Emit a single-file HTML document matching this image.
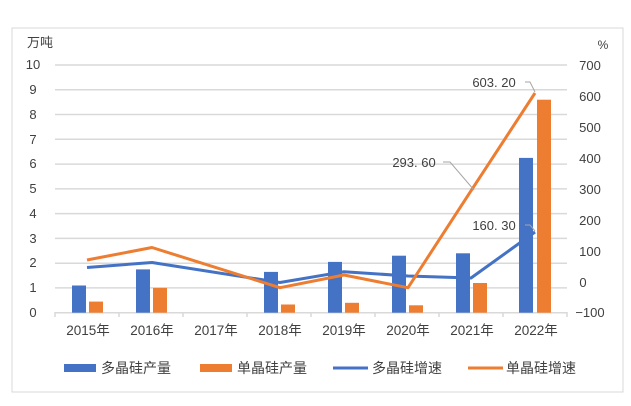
<!DOCTYPE html>
<html><head><meta charset="utf-8"><style>
html,body{margin:0;padding:0;background:#fff;}
svg{display:block;font-family:"Liberation Sans","Noto Sans CJK SC",sans-serif;}
</style></head><body>
<svg width="631" height="406" viewBox="0 0 631 406" xmlns="http://www.w3.org/2000/svg">
<rect x="12" y="28" width="611" height="364" fill="#fff" stroke="#d9d9d9" stroke-width="1"/>
<g stroke="#d9d9d9" stroke-width="1.5">
<line x1="55" x2="567" y1="65" y2="65"/><line x1="55" x2="567" y1="89.8" y2="89.8"/>
<line x1="55" x2="567" y1="114.5" y2="114.5"/><line x1="55" x2="567" y1="139.3" y2="139.3"/>
<line x1="55" x2="567" y1="164.1" y2="164.1"/><line x1="55" x2="567" y1="188.9" y2="188.9"/>
<line x1="55" x2="567" y1="213.6" y2="213.6"/><line x1="55" x2="567" y1="238.4" y2="238.4"/>
<line x1="55" x2="567" y1="263.2" y2="263.2"/><line x1="55" x2="567" y1="287.9" y2="287.9"/>
<line x1="55" x2="567" y1="312.7" y2="312.7"/>
<line x1="55" x2="55" y1="312" y2="317"/><line x1="119" x2="119" y1="312" y2="317"/>
<line x1="183" x2="183" y1="312" y2="317"/><line x1="247" x2="247" y1="312" y2="317"/>
<line x1="311" x2="311" y1="312" y2="317"/><line x1="375" x2="375" y1="312" y2="317"/>
<line x1="439" x2="439" y1="312" y2="317"/><line x1="503" x2="503" y1="312" y2="317"/>
<line x1="567" x2="567" y1="312" y2="317"/>
</g>
<g font-size="13" fill="#404040" text-anchor="middle">
<text x="33" y="69">10</text><text x="33" y="94">9</text><text x="33" y="119">8</text>
<text x="33" y="144">7</text><text x="33" y="168">6</text><text x="33" y="193">5</text>
<text x="33" y="218">4</text><text x="33" y="243">3</text><text x="33" y="267">2</text>
<text x="33" y="292">1</text><text x="33" y="317">0</text>
<text x="590" y="70">700</text><text x="590" y="101">600</text><text x="590" y="132">500</text>
<text x="590" y="163">400</text><text x="590" y="194">300</text><text x="590" y="225">200</text>
<text x="590" y="256">100</text><text x="583" y="287">0</text><text x="590" y="317">−100</text>
<text x="40" y="47" font-size="13">万吨</text><text x="603" y="49" font-size="12">%</text>
</g>
<g font-size="13.5" fill="#404040" text-anchor="middle">
<text x="88" y="335">2015年</text><text x="152" y="335">2016年</text><text x="216" y="335">2017年</text>
<text x="280" y="335">2018年</text><text x="344" y="335">2019年</text><text x="408" y="335">2020年</text>
<text x="472" y="335">2021年</text><text x="536" y="335">2022年</text>
</g>
<g fill="#4472c4">
<rect x="72" y="285.5" width="14" height="27.2"/><rect x="136" y="269.4" width="14" height="43.3"/>
<rect x="264" y="271.9" width="14" height="40.8"/><rect x="328" y="261.9" width="14" height="50.8"/>
<rect x="392" y="255.7" width="14" height="57"/><rect x="456" y="253.3" width="14" height="59.4"/>
<rect x="519" y="157.9" width="14" height="154.8"/>
</g>
<g fill="#ed7d31">
<rect x="89" y="301.6" width="14" height="11.1"/><rect x="153" y="287.9" width="14" height="24.8"/>
<rect x="281" y="304.5" width="14" height="8.2"/><rect x="345" y="302.8" width="14" height="9.9"/>
<rect x="409" y="305.3" width="14" height="7.4"/><rect x="473" y="283" width="14" height="29.7"/>
<rect x="537" y="99.7" width="14" height="213"/>
</g>
<polyline fill="none" stroke="#4472c4" stroke-width="3" stroke-linejoin="round" points="87,267.5 152,262.5 280,282.5 344,271.7 408,276 471,278 535,232"/>
<polyline fill="none" stroke="#ed7d31" stroke-width="3" stroke-linejoin="round" points="87,260 152,247.5 280,287.7 344,275 408,287.7 471,190.8 535,93"/>
<g stroke="#a6a6a6" stroke-width="1" fill="none">
<polyline points="525,82 530,82 535,92"/>
<polyline points="443,162 450,162 474,190"/>
<polyline points="525,225 530,225 535,231"/>
</g>
<g font-size="13" fill="#404040" text-anchor="middle">
<text x="494" y="87">603. 20</text><text x="414" y="167">293. 60</text><text x="494" y="230">160. 30</text>
</g>
<rect x="64" y="364" width="32" height="8" fill="#4472c4"/>
<rect x="200" y="364" width="32" height="8" fill="#ed7d31"/>
<line x1="333" x2="368" y1="368" y2="368" stroke="#4472c4" stroke-width="3"/>
<line x1="468" x2="503" y1="368" y2="368" stroke="#ed7d31" stroke-width="3"/>
<g font-size="14" fill="#404040">
<text x="101" y="373">多晶硅产量</text><text x="237" y="373">单晶硅产量</text>
<text x="372" y="373">多晶硅增速</text><text x="506" y="373">单晶硅增速</text>
</g>
</svg>
</body></html>
